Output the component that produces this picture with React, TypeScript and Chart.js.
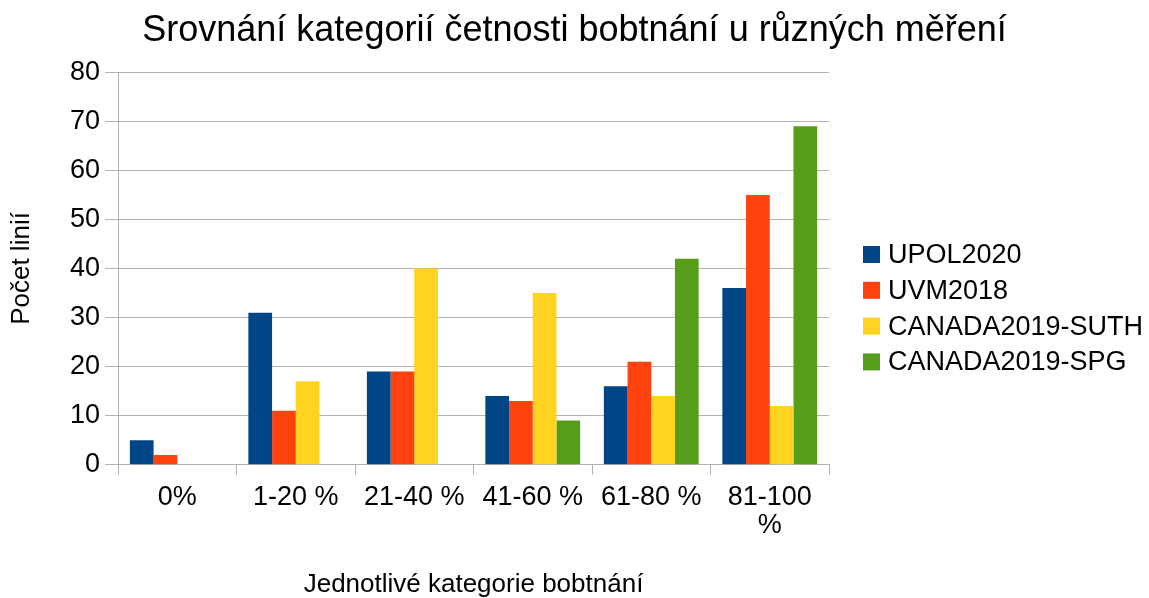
import React, { useEffect, useRef } from "react";
import { Chart, registerables } from "chart.js";

Chart.register(...registerables);

const TITLE = "Srovnání kategorií četnosti bobtnání u různých měření";
const X_TITLE = "Jednotlivé kategorie bobtnání";
const Y_TITLE = "Počet linií";

const CATEGORIES: (string | string[])[] = ["0%", "1-20 %", "21-40 %", "41-60 %", "61-80 %", ["81-100", "%"]];

const SERIES_NAMES = ["UPOL2020", "UVM2018", "CANADA2019-SUTH", "CANADA2019-SPG"];
const UPOL2020 = [5, 31, 19, 14, 16, 36];
const UVM2018 = [2, 11, 19, 13, 21, 55];
const CANADA_SUTH = [0, 17, 40, 35, 14, 12];
const CANADA_SPG = [0, 0, 0, 9, 42, 69];
const COLORS = ["#004586", "#ff420e", "#ffd320", "#579d1c"];

const Y_MIN = 0;
const Y_MAX = 80;
const Y_STEP = 10;

const GRID = "#b3b3b3";
const FONT = "'Liberation Sans', Arial, sans-serif";

// Legend drawn beside the plot (space reserved by an empty right-hand axis)
const LEGEND_SPACE = 320;
const legendPlugin = {
  id: "sideLegend",
  afterDraw(chart: any) {
    const { ctx, chartArea } = chart;
    const x0 = chartArea.right + 34;
    const y0 = 254.5;
    const step = 35.8;
    const box = 17;
    ctx.save();
    ctx.font = `27px ${FONT}`;
    ctx.textBaseline = "middle";
    ctx.textAlign = "left";
    chart.data.datasets.forEach((ds: any, i: number) => {
      const cy = y0 + i * step;
      ctx.fillStyle = ds.backgroundColor;
      ctx.fillRect(x0, cy - box / 2, box, box);
      ctx.fillStyle = "#000";
      ctx.fillText(ds.label, x0 + box + 8, cy + 1);
    });
    ctx.restore();
  },
};

export default function App() {
  const ref = useRef<HTMLCanvasElement | null>(null);

  useEffect(() => {
    if (!ref.current) return;
    const values = [UPOL2020, UVM2018, CANADA_SUTH, CANADA_SPG];
    const chart = new Chart(ref.current, {
      type: "bar",
      data: {
        labels: CATEGORIES,
        datasets: SERIES_NAMES.map((name, i) => ({
          label: name,
          data: values[i],
          backgroundColor: COLORS[i],
          borderWidth: 0,
          categoryPercentage: 0.8,
          barPercentage: 1.0,
          yAxisID: "y",
        })),
      },
      plugins: [legendPlugin],
      options: {
        responsive: false,
        animation: false,
        devicePixelRatio: 1,
        layout: { padding: 0 },
        font: { family: FONT },
        plugins: {
          tooltip: { enabled: false },
          title: {
            display: true,
            text: TITLE,
            color: "#000",
            font: { family: FONT, size: 36, weight: "normal" },
            padding: { top: 9, bottom: 20 },
          },
          legend: { display: false },
        },
        scales: {
          x: {
            type: "category",
            offset: true,
            grid: {
              offset: true,
              drawOnChartArea: true,
              color: (ctx: any) =>
                ctx.index === 0 || ctx.index === CATEGORIES.length ? GRID : "rgba(0,0,0,0)",
              tickColor: GRID,
              tickLength: 10,
            },
            border: { display: true, color: GRID },
            ticks: {
              color: "#000",
              font: { family: FONT, size: 27, lineHeight: 1.06 },
              padding: 8,
              maxRotation: 0,
              minRotation: 0,
              autoSkip: false,
            },
            title: {
              display: true,
              text: X_TITLE,
              color: "#000",
              font: { family: FONT, size: 26, lineHeight: 1 },
              padding: { top: 24, bottom: 0 },
            },
          },
          y: {
            type: "linear",
            position: "left",
            min: Y_MIN,
            max: Y_MAX,
            grid: { color: GRID, tickColor: GRID, tickLength: 13 },
            border: { display: true, color: GRID },
            ticks: {
              stepSize: Y_STEP,
              color: "#000",
              font: { family: FONT, size: 27 },
              padding: 5,
            },
            title: {
              display: true,
              text: Y_TITLE,
              color: "#000",
              font: { family: FONT, size: 26, lineHeight: 1 },
              padding: { top: 9, bottom: 30 },
            },
          },
          yR: {
            type: "linear",
            position: "right",
            display: true,
            grid: { display: false, drawTicks: false },
            border: { display: false },
            ticks: { display: false },
            title: { display: false },
            afterFit: (scale: any) => {
              scale.width = LEGEND_SPACE;
            },
          },
        },
      },
    } as any);
    return () => chart.destroy();
  }, []);

  return (
    <div style={{ position: "absolute", left: 0, top: 0, width: 1149, height: 598, background: "#fff" }}>
      <canvas ref={ref} width={1149} height={598} style={{ display: "block", width: 1149, height: 598 }} />
    </div>
  );
}
